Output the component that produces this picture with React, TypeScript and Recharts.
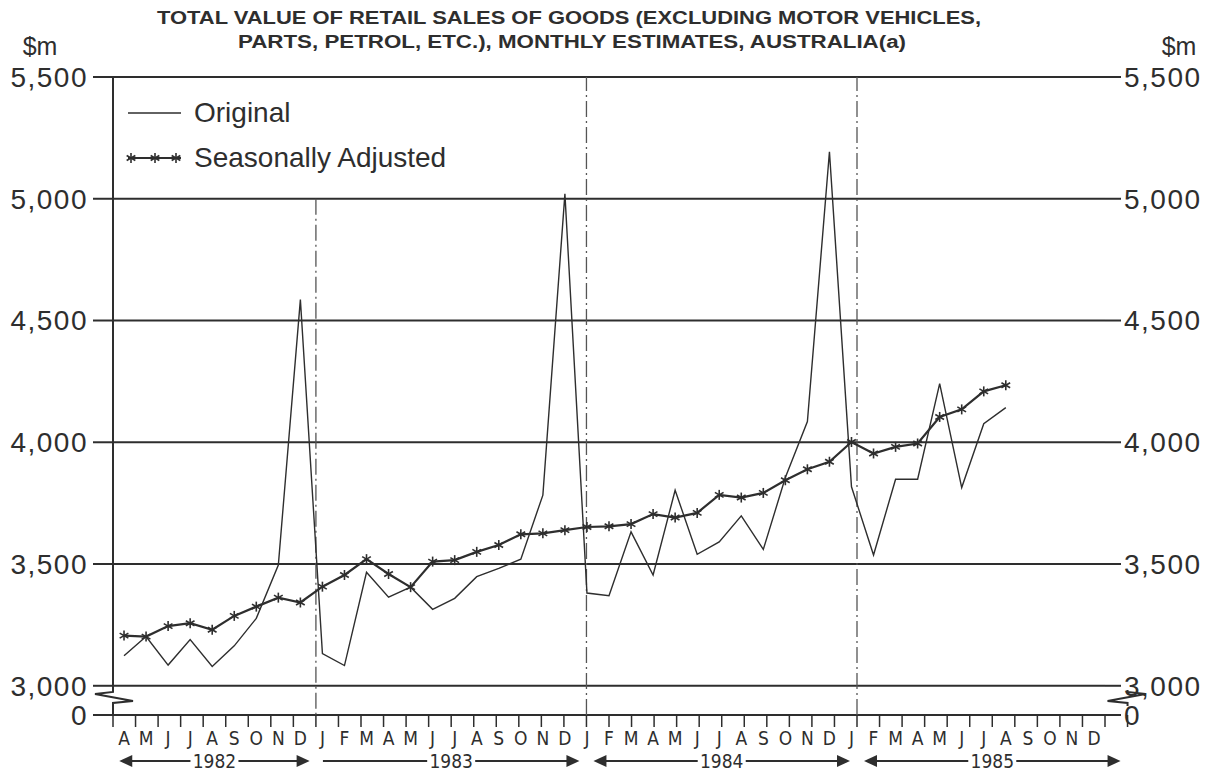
import React from "react";
import {
    CartesianGrid,
    Legend,
    Line,
    LineChart,
    ReferenceDot,
    ReferenceLine,
    XAxis,
    YAxis,
} from "recharts";

// months from April 1982 to December 1985
const MONTHS = [
    "A", "M", "J", "J", "A", "S", "O", "N", "D",
    "J", "F", "M", "A", "M", "J", "J", "A", "S", "O", "N", "D",
    "J", "F", "M", "A", "M", "J", "J", "A", "S", "O", "N", "D",
    "J", "F", "M", "A", "M", "J", "J", "A", "S", "O", "N", "D",
];
const YEARS = ["1982", "1983", "1984", "1985"];
const YEAR_MONTHS = [9, 12, 12, 12];
const YEAR_LEFT_HEAD = [true, false, true, true];

// $m, April 1982 .. August 1985
const ORIGINAL = [
    3123, 3202, 3085, 3190, 3079, 3164, 3277, 3496, 4586,
    3132, 3083, 3466, 3364, 3405, 3314, 3359, 3448, 3482, 3520, 3783, 5020,
    3381, 3370, 3632, 3455, 3803, 3540, 3591, 3698, 3560, 3855, 4085, 5193,
    3817, 3537, 3848, 3848, 4241, 3814, 4076, 4142,
];
const ADJUSTED = [
    3206, 3202, 3245, 3257, 3230, 3287, 3325, 3362, 3342,
    3407, 3455, 3520, 3459, 3405, 3510, 3516, 3550, 3578, 3622, 3626, 3639,
    3652, 3655, 3664, 3705, 3691, 3710, 3784, 3773, 3792, 3844, 3889, 3920,
    4001, 3954, 3981, 3995, 4104, 4135, 4209, 4234,
];

const Y_TICKS = [3000, 3500, 4000, 4500, 5000, 5500];
const Y_BREAK = 2880; // value sitting on the "0" line under the axis break
const Y_TOP = 5500;

const W = 1223;
const H = 771;
const PLOT_LEFT = 113;
const PLOT_RIGHT = 1105;
const MONTH_PX = (PLOT_RIGHT - PLOT_LEFT) / MONTHS.length;

const INK = "#2e2e2e";
const FONT = '"Liberation Sans", Arial, Helvetica, sans-serif';
const NARROW = '"Liberation Sans Narrow", "DejaVu Sans Condensed", "Arial Narrow", sans-serif';

const rows = MONTHS.map((month, i) => ({
    pos: i + 0.5,
    month,
    original: ORIGINAL[i] ?? null,
    adjusted: ADJUSTED[i] ?? null,
}));

const yearSpans = YEARS.map((label, k) => {
    const start = YEAR_MONTHS.slice(0, k).reduce((a, b) => a + b, 0);
    return { label, start, end: start + YEAR_MONTHS[k], leftHead: YEAR_LEFT_HEAD[k] };
});

const boundaryTicks = MONTHS.map((_, i) => i).concat(MONTHS.length);
const monthTicks = rows.map((r) => r.pos);
const yearTicks = yearSpans.map((s) => (s.start + s.end) / 2);

function Star({ cx, cy, size = 5 }: any) {
    if (cx == null || cy == null) return null;
    const dx = size * 0.87;
    const dy = size * 0.5;
    return (
        <g stroke={INK} strokeWidth={1.6}>
            <line x1={cx} y1={cy - size} x2={cx} y2={cy + size} />
            <line x1={cx - dx} y1={cy - dy} x2={cx + dx} y2={cy + dy} />
            <line x1={cx - dx} y1={cy + dy} x2={cx + dx} y2={cy - dy} />
        </g>
    );
}

function EmptyTick() {
    return <g />;
}

function YearTick({ x, y, payload }: any) {
    const span = yearSpans.find((s) => (s.start + s.end) / 2 === payload.value);
    if (!span) return null;
    const half = ((span.end - span.start) / 2) * MONTH_PX - 4;
    const ty = y + 18;
    const gap = 24;
    return (
        <g>
            <line x1={x - half + (span.leftHead ? 8 : 0)} x2={x - gap} y1={ty} y2={ty} stroke={INK} strokeWidth={2} />
            <line x1={x + gap} x2={x + half - 8} y1={ty} y2={ty} stroke={INK} strokeWidth={2} />
            {span.leftHead && <path d={`M${x - half},${ty} l13,-6 v12 z`} fill={INK} />}
            <path d={`M${x + half},${ty} l-13,-6 v12 z`} fill={INK} />
            <text x={x} y={ty + 7} textAnchor="middle" fontFamily={NARROW} fontSize={19} fill={INK}>
                {span.label}
            </text>
        </g>
    );
}

function BreakMark({ cx, cy, side }: any) {
    const s = side === "left" ? -1 : 1;
    return (
        <g>
            <rect x={cx - 3} y={cy - 7} width={6} height={14} fill="#fff" />
            <path
                d={`M${cx},${cy - 8} L${cx},${cy - 6} L${cx + s * 18},${cy - 4} L${cx - s * 20},${cy + 3} L${cx},${cy + 5} L${cx},${cy + 8}`}
                fill="none"
                stroke={INK}
                strokeWidth={2}
            />
        </g>
    );
}

function LegendBox({ payload }: any) {
    const items = payload ?? [];
    return (
        <div style={{ fontFamily: FONT, fontSize: 28, color: INK }}>
            {items.map((item: any) => {
                const starred = item.dataKey === "adjusted";
                return (
                    <div key={item.dataKey} style={{ display: "flex", alignItems: "center", height: 45 }}>
                        <svg width={62} height={20} style={{ marginRight: 6 }}>
                            <line x1={2} x2={55} y1={10} y2={10} stroke={INK} strokeWidth={starred ? 2 : 1.4} />
                            {starred && [5, 29, 50].map((sx) => <Star key={sx} cx={sx} cy={10} size={5} />)}
                        </svg>
                        <span>{item.value}</span>
                    </div>
                );
            })}
        </div>
    );
}

const fmtY = (v: number) => (v < Y_TICKS[0] ? "0" : v.toLocaleString("en-US"));

export default function App() {
    return (
        <div style={{ position: "absolute", left: 0, top: 0, width: W, height: H, background: "#fff" }}>
            <svg width={W} height={90} style={{ position: "absolute", left: 0, top: 0 }}>
                <text x={157} y={24} fontFamily={FONT} fontWeight="bold" fontSize={18} fill={INK}
                    textLength={824} lengthAdjust="spacingAndGlyphs">
                    TOTAL VALUE OF RETAIL SALES OF GOODS (EXCLUDING MOTOR VEHICLES,
                </text>
                <text x={238} y={48} fontFamily={FONT} fontWeight="bold" fontSize={18} fill={INK}
                    textLength={668} lengthAdjust="spacingAndGlyphs">
                    PARTS, PETROL, ETC.), MONTHLY ESTIMATES, AUSTRALIA(a)
                </text>
                <text x={40} y={55} textAnchor="middle" fontFamily={FONT} fontSize={25} fill={INK}>$m</text>
                <text x={1179} y={55} textAnchor="middle" fontFamily={FONT} fontSize={25} fill={INK}>$m</text>
            </svg>
            <LineChart width={W} height={H} data={rows} margin={{ top: 77, right: 0, bottom: 0, left: 0 }}>
                <XAxis xAxisId="grid" type="number" domain={[0, MONTHS.length]} ticks={boundaryTicks}
                    allowDataOverflow tick={<EmptyTick />} tickSize={12} height={1} axisLine={false}
                    interval={0} tickLine={{ stroke: INK, strokeWidth: 1.5 }} />
                <XAxis xAxisId="m" dataKey="pos" type="number" domain={[0, MONTHS.length]} ticks={monthTicks}
                    allowDataOverflow tickFormatter={(v: number) => MONTHS[Math.floor(v)]} height={27}
                    axisLine={false} tickLine={false} tickSize={0} tickMargin={16} interval={0}
                    tick={{ fill: INK, fontSize: 19, fontFamily: NARROW }} />
                <XAxis xAxisId="year" type="number" domain={[0, MONTHS.length]} ticks={yearTicks}
                    allowDataOverflow height={28} axisLine={false} tickLine={false} tickSize={0}
                    tickMargin={0} interval={0} tick={<YearTick />} />
                <YAxis yAxisId="left" orientation="left" width={113} domain={[Y_BREAK, Y_TOP]}
                    ticks={[Y_BREAK, ...Y_TICKS]} allowDataOverflow tickFormatter={fmtY}
                    tickSize={20} tickMargin={5} axisLine={false} interval={0}
                    tickLine={{ stroke: INK, strokeWidth: 2 }}
                    tick={{ fill: INK, fontSize: 28, fontFamily: FONT, letterSpacing: 1.5 }} />
                <YAxis yAxisId="right" orientation="right" width={W - PLOT_RIGHT} domain={[Y_BREAK, Y_TOP]}
                    ticks={[Y_BREAK, ...Y_TICKS]} allowDataOverflow tickFormatter={fmtY}
                    tickSize={16} tickMargin={3} axisLine={false} interval={0}
                    tickLine={{ stroke: INK, strokeWidth: 2 }}
                    tick={{ fill: INK, fontSize: 28, fontFamily: FONT, letterSpacing: 1.5 }} />
                <CartesianGrid xAxisId="grid" yAxisId="left" vertical={false} stroke={INK} strokeWidth={2} />
                <ReferenceLine xAxisId="grid" yAxisId="left" x={0} stroke={INK} strokeWidth={2} />
                <ReferenceLine xAxisId="grid" yAxisId="left" x={MONTHS.length} stroke={INK} strokeWidth={2} />
                <ReferenceLine xAxisId="grid" yAxisId="left" stroke="#555" strokeWidth={1.3}
                    strokeDasharray="16 4 2 4"
                    segment={[{ x: yearSpans[1].start, y: 5000 }, { x: yearSpans[1].start, y: Y_BREAK }]} />
                {yearSpans.slice(2).map((s) => (
                    <ReferenceLine key={s.label} xAxisId="grid" yAxisId="left" x={s.start} stroke="#555"
                        strokeWidth={1.3} strokeDasharray="16 4 2 4" />
                ))}
                <ReferenceDot xAxisId="grid" yAxisId="left" x={0} y={(Y_BREAK + Y_TICKS[0]) / 2 + 10} r={0}
                    ifOverflow="visible" shape={(p: any) => <BreakMark {...p} side="left" />} />
                <ReferenceDot xAxisId="grid" yAxisId="left" x={MONTHS.length} y={(Y_BREAK + Y_TICKS[0]) / 2 + 10} r={0}
                    ifOverflow="visible" shape={(p: any) => <BreakMark {...p} side="right" />} />
                <Line xAxisId="m" yAxisId="left" type="linear" dataKey="original" name="Original"
                    stroke={INK} strokeWidth={1.4} dot={false} activeDot={false} isAnimationActive={false} />
                <Line xAxisId="m" yAxisId="left" type="linear" dataKey="adjusted" name="Seasonally Adjusted"
                    stroke={INK} strokeWidth={2.2} dot={<Star />} activeDot={false} isAnimationActive={false} />
                <Legend layout="vertical" align="center" verticalAlign="middle"
                    wrapperStyle={{ left: 126, top: 90, width: 380 }} content={<LegendBox />} />
            </LineChart>
        </div>
    );
}
